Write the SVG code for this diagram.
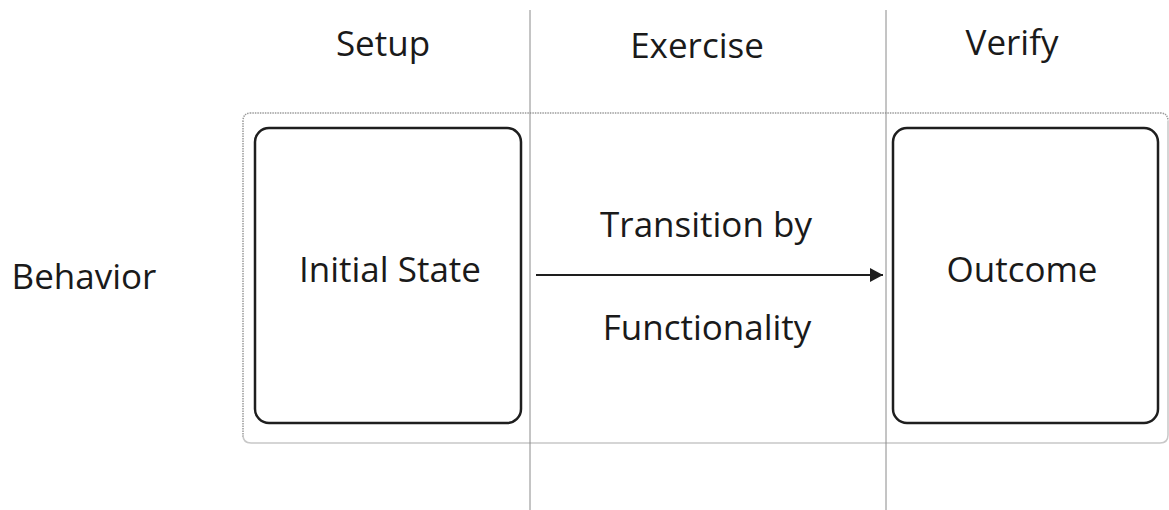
<svg xmlns="http://www.w3.org/2000/svg" width="1169" height="510" viewBox="0 0 1169 510">
<style>
text{font-family:"Open Sans","Liberation Sans",sans-serif;font-size:35px;fill:#1a1a1a;text-anchor:middle}
.box{fill:#fff;stroke:#1e1e1e;stroke-width:2.5}
.lane{stroke:#8a8a8a;stroke-width:1;fill:none}
</style>
<defs>
<marker id="arr" markerWidth="14" markerHeight="14" refX="13" refY="7" orient="auto" markerUnits="userSpaceOnUse">
<path d="M0,0 L13,7 L0,14 Z" fill="#1e1e1e"/>
</marker>
</defs>
<rect width="1169" height="510" fill="#fff"/>
<g id="frame">
<path d="M243,437 L243,121 Q243,113 251,113 L1160,113 Q1168,113 1168,121" fill="none" stroke="#9a9a9a" stroke-width="1.5" stroke-dasharray="1.5,1"/>
<path d="M1168,121 L1168,435 Q1168,443 1160,443 L251,443 Q243,443 243,435" fill="none" stroke="#c8c8c8" stroke-width="1.5"/>
</g>
<g id="lanes">
<line class="lane" x1="530" y1="10" x2="530" y2="510"/>
<line class="lane" x1="886" y1="10" x2="886" y2="510"/>
</g>
<g id="headers">
<text x="383" y="56">Setup</text>
<text x="697" y="58">Exercise</text>
<text x="1012" y="55">Verify</text>
<text x="84" y="289">Behavior</text>
</g>
<g id="initial-state">
<rect class="box" x="255" y="128" width="266" height="295" rx="14"/>
<text x="390" y="282">Initial State</text>
</g>
<g id="outcome">
<rect class="box" x="893" y="128" width="265" height="295" rx="14"/>
<text x="1022" y="282">Outcome</text>
</g>
<g id="connectors">
<line x1="536" y1="275" x2="883" y2="275" stroke="#1e1e1e" stroke-width="2" marker-end="url(#arr)"/>
<text x="706" y="237">Transition by</text>
<text x="707" y="340">Functionality</text>
</g>
</svg>
